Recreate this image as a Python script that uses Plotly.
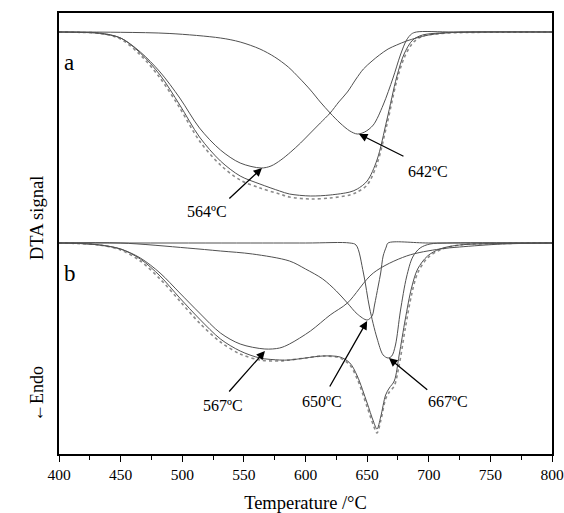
import plotly.graph_objects as go

# ---------------- data (temperature in degC, depth of DTA signal in a.u.) -------------
# panel a
a_p1_T = [400, 417, 433, 450, 466, 482, 498, 514, 531, 547, 564, 572, 580, 588, 596, 604, 612, 620, 627, 634, 641, 647, 654, 660, 667, 674, 682, 690, 700, 709, 720, 800]
a_p1_D = [0, 0.3, 1.5, 6, 20, 40, 66, 96, 118, 131, 136, 134, 128, 120, 111, 101, 91, 81, 70, 60, 47, 37, 29, 23, 17, 13, 9, 6, 3, 1.5, 0.5, 0]

a_p2_T = [400, 450, 490, 531, 547, 563, 575, 586, 595, 604, 612, 620, 628, 636, 642, 648, 655, 663, 671, 677, 682, 686, 690, 720, 800]
a_p2_D = [0, 0.3, 1.5, 6, 10, 17, 25, 35, 46, 58, 70, 81, 91, 99, 102, 100, 93, 73, 46, 23, 8, 2, 0, 0, 0]

a_sum_T = [400, 417, 433, 450, 466, 482, 498, 514, 531, 547, 563, 579, 587, 604, 620, 636, 642, 650, 658, 666, 674, 680, 687, 695, 709, 730, 800]
a_sum_D = [0, 0.3, 1, 6, 21, 43, 73, 105, 129, 144, 152, 159, 162, 164, 163, 160, 157, 149, 128, 88, 45, 22, 8, 3, 1, 0, 0]

a_meas_T = [400, 417, 433, 450, 466, 482, 498, 514, 531, 547, 563, 579, 587, 604, 620, 636, 642, 650, 658, 666, 674, 680, 687, 695, 709, 730, 760, 800]
a_meas_D = [0, 0.4, 1.3, 7, 23, 46, 76, 109, 133, 148, 156, 162, 165, 167, 166, 163, 160, 153, 132, 93, 49, 26, 11, 4, 1.5, 0.5, 0.2, 0]

# panel b
b_p1_T = [400, 417, 433, 450, 466, 482, 498, 514, 531, 547, 567, 579, 587, 604, 620, 634, 655, 682, 709, 725, 760, 800]
b_p1_D = [0, 0.5, 2, 6, 15, 30, 50, 70, 90, 101, 106, 105, 101, 88, 72, 60, 30, 13, 6, 4, 1, 0]

b_p2_T = [400, 450, 504, 531, 557, 587, 600, 614, 625, 634, 642, 650, 654, 656, 659, 661, 663, 665.5, 667, 700, 800]
b_p2_D = [0, 0, 5, 8, 11, 18, 26, 36, 48, 60, 71, 77, 73, 62, 43, 30, 13, 4, 0, 0, 0]

b_p3_T = [400, 600, 636, 641, 647, 652, 658, 663, 667, 670, 673, 677, 682, 687, 693, 701, 715, 800]
b_p3_D = [0, 0, 0, 2, 30, 65, 95, 112, 115, 113, 102, 68, 34, 14, 5, 1, 0, 0]

b_sum_T = [400, 417, 433, 450, 466, 482, 498, 514, 531, 547, 563, 579, 587, 600, 614, 628, 636, 642, 650, 655, 658, 661, 665, 668, 672, 676, 681, 686, 691, 699, 709, 725, 760, 800]
b_sum_D = [0, 0.5, 2, 6, 16, 33, 55, 76, 96, 108, 115, 117, 117, 115, 113, 114, 120, 133, 160, 178, 186, 174, 152, 145, 138, 112, 76, 45, 26, 13, 6, 2, 0.5, 0]

b_meas_T = [400, 417, 433, 450, 466, 482, 498, 514, 531, 547, 563, 579, 587, 600, 614, 628, 636, 642, 650, 655, 658, 661, 665, 668, 672, 676, 681, 686, 691, 699, 709, 725, 760, 800]
b_meas_D = [0, 0.6, 2, 7, 18, 36, 58, 80, 99, 111, 117, 118, 117, 115, 113, 115, 122, 136, 164, 182, 190, 178, 156, 149, 143, 122, 85, 52, 30, 15, 7, 2, 0.5, 0]

x_ticks = [400, 450, 500, 550, 600, 650, 700, 750, 800]

# peak labels
peak_labels = ["564ºC", "642ºC", "567ºC", "650ºC", "667ºC"]

# ---------------- layout helpers ----------------
OFF_A = 422   # baseline offset of panel a
OFF_B = 211   # baseline offset of panel b
FONT = "Liberation Serif"
LINE = "#505050"

def sig(depths, off):
    return [off - d for d in depths]

fig = go.Figure()

def add(T, D, off, dotted=False):
    fig.add_trace(go.Scatter(
        x=T, y=sig(D, off), mode="lines",
        line=dict(color="#8a8a8a" if dotted else LINE, width=1.6 if dotted else 1.0,
                  dash="dot" if dotted else "solid", shape="spline", smoothing=0.9),
        hoverinfo="skip", showlegend=False))

add(a_meas_T, a_meas_D, OFF_A, dotted=True)
add(a_sum_T, a_sum_D, OFF_A)
add(a_p1_T, a_p1_D, OFF_A)
add(a_p2_T, a_p2_D, OFF_A)

add(b_meas_T, b_meas_D, OFF_B, dotted=True)
add(b_sum_T, b_sum_D, OFF_B)
add(b_p1_T, b_p1_D, OFF_B)
add(b_p2_T, b_p2_D, OFF_B)
add(b_p3_T, b_p3_D, OFF_B)

# arrows: (label, tipT, tipY, tailT, tailY, textT, textY)
arrows = [
    (peak_labels[0], 564.7, OFF_A - 136, 537, 254, 520, 243),
    (peak_labels[1], 643.4, OFF_A - 102, 680.7, 297, 699.4, 283),
    (peak_labels[2], 567.1, OFF_B - 108, 537, 61, 533, 49),
    (peak_labels[3], 650, OFF_B - 78, 619, 66, 613.4, 53),
    (peak_labels[4], 667.7, OFF_B - 115, 700, 63, 715.6, 53),
]
ann = []
for lab, tx, ty, ax, ay, lx, ly in arrows:
    ann.append(dict(x=tx, y=ty, ax=ax, ay=ay, xref="x", yref="y", axref="x", ayref="y",
                    showarrow=True, arrowhead=2, arrowsize=1.3, arrowwidth=1.3,
                    arrowcolor="black", text=""))
    ann.append(dict(x=lx, y=ly, xref="x", yref="y", text=lab, showarrow=False,
                    font=dict(family=FONT, size=16, color="black")))

ann.append(dict(x=402.5, y=392, xref="x", yref="y", text="a", showarrow=False,
                xanchor="left", font=dict(family=FONT, size=23, color="black")))
ann.append(dict(x=402.5, y=181, xref="x", yref="y", text="b", showarrow=False,
                xanchor="left", font=dict(family=FONT, size=23, color="black")))
ann.append(dict(x=-0.069, y=0.535, xref="paper", yref="paper", text="DTA signal",
                textangle=-90, showarrow=False, font=dict(family=FONT, size=18.5, color="black")))
ann.append(dict(x=-0.069, y=0.068, xref="paper", yref="paper", text="←Endo",
                textangle=-90, showarrow=False, font=dict(family=FONT, size=18, color="black")))

fig.update_layout(
    width=564, height=513,
    margin=dict(l=59, r=12, t=13, b=59),
    paper_bgcolor="white", plot_bgcolor="white",
    annotations=ann,
    xaxis=dict(range=[400, 800], tickvals=x_ticks, ticktext=[str(v) for v in x_ticks],
               automargin=False,
               ticks="outside", ticklen=6, tickwidth=1.3, tickcolor="black",
               ticklabelstandoff=0,
               minor=dict(dtick=25, tick0=400, ticks="outside", ticklen=4, tickwidth=1.2, tickcolor="black"),
               showline=True, linecolor="black", linewidth=1.5, mirror=True,
               showgrid=False, zeroline=False,
               tickfont=dict(family=FONT, size=15.5, color="black"),
               title=dict(text="Temperature /°C", font=dict(family=FONT, size=18.5, color="black"), standoff=21)),
    yaxis=dict(range=[0, 441], showticklabels=False, ticks="", showgrid=False, zeroline=False,
               automargin=False,
               showline=True, linecolor="black", linewidth=1.5, mirror=True),
)

fig.write_html("out.html")
